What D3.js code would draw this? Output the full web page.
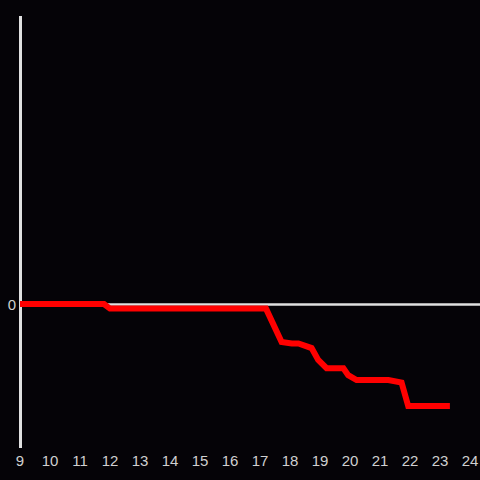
<!DOCTYPE html>
<html>
<head>
<meta charset="utf-8">
<script src="https://cdn.jsdelivr.net/npm/d3@7"></script>
<style>
  html, body { margin: 0; padding: 0; background: #050307; }
</style>
</head>
<body>
<div id="chart"></div>
<script>
// hour of day and value
const hours = [9, 11.8, 12, 17.2, 17.72, 18.06, 18.28, 18.72, 18.94, 19.22, 19.78, 19.94, 20.22, 21.28, 21.72, 21.94, 23.33]
const values = [0, 0, -0.16, -0.16, -1.32, -1.37, -1.37, -1.53, -1.94, -2.23, -2.23, -2.47, -2.64, -2.64, -2.73, -3.54, -3.54]
const xTicks = [9, 10, 11, 12, 13, 14, 15, 16, 17, 18, 19, 20, 21, 22, 23, 24]
const yTicks = [0]

const width = 480, height = 480

const svg = d3.select("#chart")
    .append("svg")
    .attr("width", width)
    .attr("height", height)

svg.append("rect")
    .attr("width", width)
    .attr("height", height)
    .attr("fill", "#050307")

const x = d3.scaleLinear().domain([9, 24]).range([20, 470])
const y = d3.scaleLinear().domain([-5, 10]).range([448, 16])

// y axis line
svg.append("line")
    .attr("x1", 20.5).attr("x2", 20.5)
    .attr("y1", 16).attr("y2", 448)
    .attr("stroke", "#e0e0e0")
    .attr("stroke-width", 3)

// zero line
svg.append("line")
    .attr("x1", 20).attr("x2", width)
    .attr("y1", y(0) + 0.5).attr("y2", y(0) + 0.5)
    .attr("stroke", "#e0e0e0")
    .attr("stroke-width", 2.5)

svg.selectAll("text.xt")
    .data(xTicks)
    .enter()
    .append("text")
    .attr("class", "xt")
    .attr("x", d => x(d))
    .attr("y", 466)
    .attr("text-anchor", "middle")
    .attr("fill", "#d0d0d0")
    .attr("font-family", "Liberation Sans, Arial, sans-serif")
    .attr("font-size", 15)
    .text(d => d)

svg.selectAll("text.yt")
    .data(yTicks)
    .enter()
    .append("text")
    .attr("class", "yt")
    .attr("x", 16)
    .attr("y", d => y(d) + 6)
    .attr("text-anchor", "end")
    .attr("fill", "#d0d0d0")
    .attr("font-family", "Liberation Sans, Arial, sans-serif")
    .attr("font-size", 15)
    .text(d => d)

const line = d3.line()
    .x((d, i) => x(hours[i]))
    .y(d => y(d))

svg.append("path")
    .datum(values)
    .attr("d", line)
    .attr("fill", "none")
    .attr("stroke", "#ff0000")
    .attr("stroke-width", 6)
</script>
</body>
</html>
